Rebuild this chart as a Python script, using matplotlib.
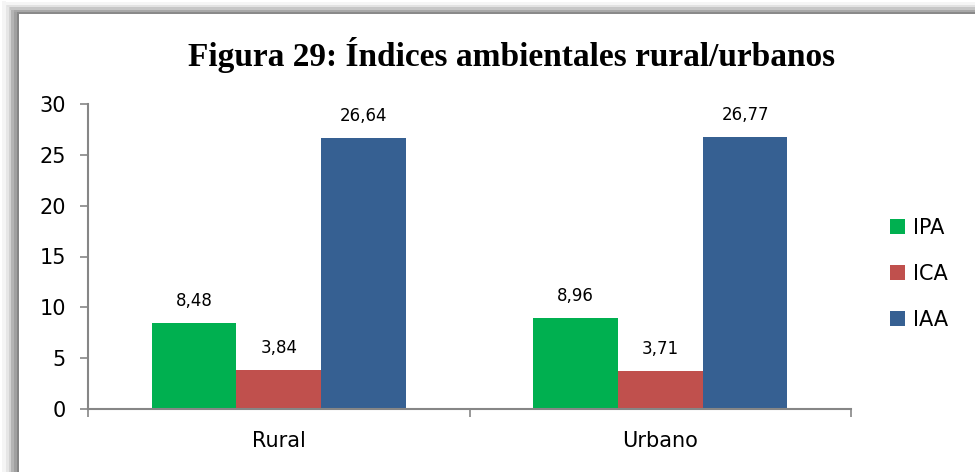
import matplotlib

matplotlib.use("Agg")
import matplotlib.pyplot as plt
from matplotlib.patches import Patch, Rectangle

# data
categories = ["Rural", "Urbano"]
series_names = ["IPA", "ICA", "IAA"]
ipa = [8.48, 8.96]
ica = [3.84, 3.71]
iaa = [26.64, 26.77]
colours = ["#00B050", "#C0504D", "#366092"]

W, H = 975, 472

fig = plt.figure(figsize=(W / 100, H / 100), dpi=100)


def px_rect(x0, y0, x1, y1, colour):
    # rectangle given in pixel coords from the top-left corner
    fig.add_artist(
        Rectangle(
            (x0 / W, 1 - y1 / H),
            (x1 - x0) / W,
            (y1 - y0) / H,
            transform=fig.transFigure,
            facecolor=colour,
            edgecolor="none",
            zorder=0,
        )
    )


# shadowed frame on the left and top
left_strips = [(2, 6, "#f5f5f5"), (6, 9, "#e6e6e6"), (9, 11, "#d2d2d2"),
               (11, 14, "#b4b4b4"), (14, 17, "#a0a0a0"), (17, 19, "#858585")]
for x0, x1, c in left_strips:
    px_rect(x0, x0 * 0.7, x1, H, c)
top_strips = [(2, 5, "#f5f5f5"), (5, 7, "#e2e2e2"), (7, 10, "#c6c6c6"),
              (10, 12, "#a8a8a8"), (12, 14, "#8a8a8a")]
for y0, y1, c in top_strips:
    px_rect(y0 * 1.4, y0, W, y1, c)

ax = fig.add_axes((88 / W, 63 / H, (851 - 88) / W, (409 - 104) / H))
ax.set_facecolor("none")

bar_w = 1 / 4.5
offsets = [-bar_w, 0, bar_w]
xs = list(range(len(categories)))
for vals, name, col, off in zip([ipa, ica, iaa], series_names, colours, offsets):
    bars = ax.bar([x + off for x in xs], vals, width=bar_w, color=col,
                  edgecolor="none", label=name, zorder=2)
    for b, v in zip(bars, vals):
        ax.annotate(f"{v:.2f}".replace(".", ","),
                    (b.get_x() + b.get_width() / 2, v),
                    xytext=(0, 16), textcoords="offset points",
                    ha="center", va="center", fontsize=12)

ax.set_xlim(-0.5, 1.5)
ax.set_ylim(0, 30)
ax.set_yticks(range(0, 31, 5))
ax.set_xticks([-0.5, 0.5, 1.5])
ax.set_xticklabels([])
ax.set_xticks(xs, minor=True)
ax.set_xticklabels(categories, minor=True, fontsize=15)
ax.tick_params(axis="x", which="minor", length=0, pad=16)
ax.tick_params(axis="x", which="major", length=6, color="#868686", width=1.2)
ax.tick_params(axis="y", length=6, color="#868686", width=1.2, labelsize=15, pad=10)

for side in ["top", "right"]:
    ax.spines[side].set_visible(False)
for side in ["left", "bottom"]:
    ax.spines[side].set_color("#868686")
    ax.spines[side].set_linewidth(1.5)

fig.text(512 / W, 1 - 55 / H, "Figura 29: Índices ambientales rural/urbanos",
         ha="center", va="center", fontsize=24, fontweight="bold",
         family="Liberation Serif")

handles = [Patch(facecolor=c, edgecolor="none") for c in colours]
fig.legend(handles, series_names, loc="center left",
           bbox_to_anchor=(890 / W, 1 - 274 / H), frameon=False,
           fontsize=15, handlelength=0.7, handleheight=0.7,
           handletextpad=0.4, labelspacing=1.25, borderpad=0, borderaxespad=0)

fig.savefig("out.png", dpi=100, facecolor="white")
